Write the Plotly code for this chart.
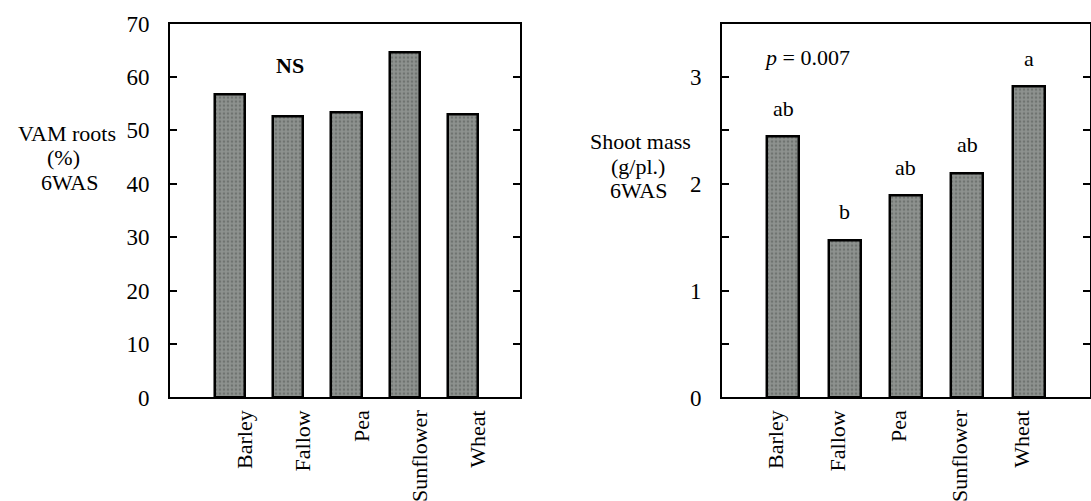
import plotly.graph_objects as go

categories = ["Barley", "Fallow", "Pea", "Sunflower", "Wheat"]
vam_roots = [56.8, 52.5, 53.3, 64.5, 53.0]
shoot_mass = [2.44, 1.47, 1.89, 2.10, 2.91]
shoot_letters = ["ab", "b", "ab", "ab", "a"]
left_yticks = [0, 10, 20, 30, 40, 50, 60, 70]
right_yticks = [0, 0.5, 1, 1.5, 2, 2.5, 3, 3.5]
right_yticktext = ["0", "", "1", "", "2", "", "3", ""]
left_title_lines = ["VAM roots", "(%)", "6WAS"]
right_title_lines = ["Shoot mass", "(g/pl.)", "6WAS"]

FONT = "Liberation Serif"
pos = list(range(len(categories)))

bar_marker = dict(
    color="#858986",
    line=dict(color="black", width=2.5),
    pattern=dict(shape=".", bgcolor="#8e928f", fgcolor="#4f5451", size=4, solidity=0.35, fillmode="overlay"),
)

fig = go.Figure()
fig.add_trace(go.Bar(x=pos, y=vam_roots, width=0.52, marker=bar_marker, xaxis="x", yaxis="y", showlegend=False))
fig.add_trace(go.Bar(x=pos, y=shoot_mass, width=0.52, marker=bar_marker, xaxis="x2", yaxis="y2", showlegend=False))

ydom = [0.2066, 0.953]
L_RANGE = [-1.03, 4.98]
R_RANGE = [-1.0, 5.0]

common_y = dict(showline=True, linecolor="black", linewidth=2, mirror="ticks", ticks="inside",
                ticklen=7, tickwidth=2, tickcolor="black", showgrid=False, zeroline=False,
                automargin=False,
                tickfont=dict(family=FONT, size=23, color="black"), ticklabelstandoff=14)
main_x = dict(showline=True, linecolor="black", linewidth=2, mirror=True, ticks="",
              showgrid=False, zeroline=False, automargin=False, tickangle=-90,
              tickfont=dict(family=FONT, size=22, color="black"), ticklabelstandoff=2)
top_x = dict(ticks="inside", ticklen=7, tickwidth=2, tickcolor="black", showticklabels=False,
             showline=False, showgrid=False, zeroline=False, side="top", automargin=False)

fig.update_layout(
    width=1091, height=501,
    margin=dict(l=0, r=0, t=0, b=0, autoexpand=False),
    paper_bgcolor="white", plot_bgcolor="white",
    bargap=0,
    xaxis=dict(domain=[0.1558, 0.4766], range=L_RANGE, anchor="y", tickvals=pos, ticktext=categories,
               ticklabelshift=15, **main_x),
    xaxis3=dict(overlaying="x", range=L_RANGE, tickvals=pos, anchor="y", **top_x),
    yaxis=dict(domain=ydom, range=[0, 70], tickvals=left_yticks, anchor="x", **common_y),
    xaxis2=dict(domain=[0.6618, 0.999], range=R_RANGE, anchor="y2", tickvals=pos, ticktext=categories,
                ticklabelshift=-7, **main_x),
    xaxis4=dict(overlaying="x2", range=R_RANGE, tickvals=pos, anchor="y2", **top_x),
    yaxis2=dict(domain=ydom, range=[0, 3.5], tickvals=right_yticks, ticktext=right_yticktext,
                anchor="x2", **common_y),
)

# three-line axis titles, placed line by line to match tight line spacing
left_x_px = [67, 63, 69]
left_y_px = [134, 157, 182]
for t, xp, yp in zip(left_title_lines, left_x_px, left_y_px):
    fig.add_annotation(text=t, xref="paper", yref="paper", x=xp / 1091, y=1 - yp / 501,
                       xanchor="center", yanchor="middle", borderpad=0,
                       showarrow=False, font=dict(family=FONT, size=22, color="black"))
right_x_px = [640, 638, 638]
right_y_px = [142, 166, 190]
for t, xp, yp in zip(right_title_lines, right_x_px, right_y_px):
    fig.add_annotation(text=t, xref="paper", yref="paper", x=xp / 1091, y=1 - yp / 501,
                       xanchor="center", yanchor="middle", borderpad=0,
                       showarrow=False, font=dict(family=FONT, size=22, color="black"))

fig.add_annotation(text="<b>NS</b>", xref="x", yref="y", x=1.03, y=62.2, showarrow=False,
                   xanchor="center", yanchor="middle",
                   font=dict(family=FONT, size=22, color="black"))
fig.add_annotation(text="<i>p</i> = 0.007", xref="x2", yref="y2", x=0.39, y=3.18, showarrow=False,
                   xanchor="center", yanchor="middle",
                   font=dict(family=FONT, size=22, color="black"))

for i, (v, lab) in enumerate(zip(shoot_mass, shoot_letters)):
    fig.add_annotation(text=lab, xref="x2", yref="y2", x=i, y=v, xanchor="center", yanchor="bottom",
                       yshift=14, showarrow=False, font=dict(family=FONT, size=22, color="black"))

fig.write_html("out.html")
